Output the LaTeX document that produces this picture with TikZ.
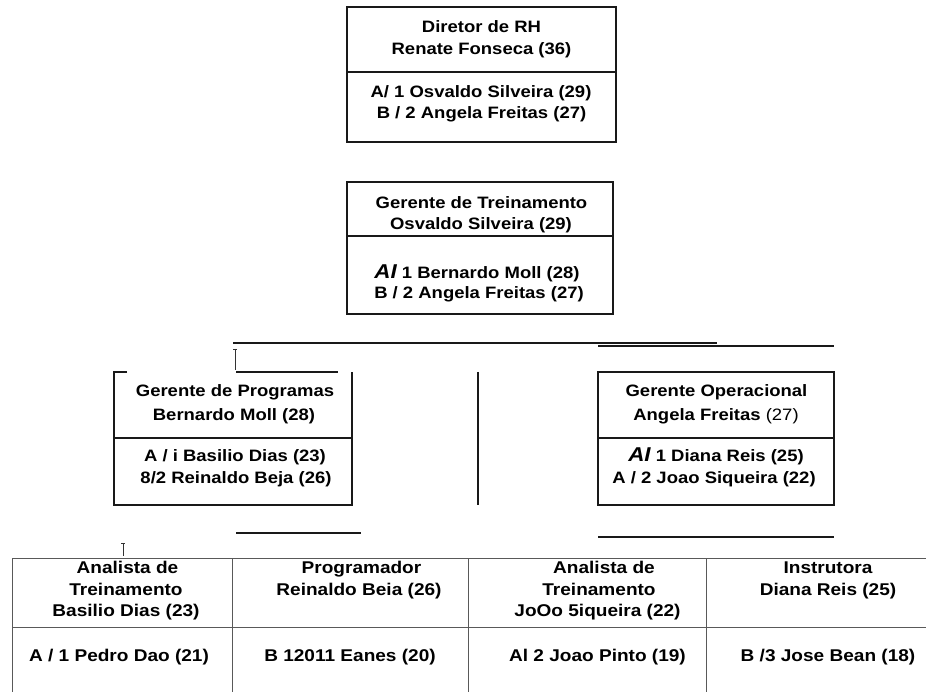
\documentclass[tikz,border=0pt]{standalone}
\usepackage{fontspec}
\newfontfamily\chartfont{Liberation Sans}[FakeStretch=1.12]
\begin{document}
\begin{tikzpicture}[x=1pt,y=-1pt,
  boxline/.style={line width=1.6pt,draw=black!90},
  gridline/.style={line width=0.9pt,draw=black!65},
  thinline/.style={line width=0.6pt,draw=black!80},
  lbl/.style={anchor=base,inner sep=0pt,font=\chartfont\fontsize{16.5}{20}\selectfont\bfseries},
  tbl/.style={lbl,font=\chartfont\fontsize{17}{20}\selectfont\bfseries}]
\newcommand\slantAI{{\fontsize{20}{20}\selectfont\itshape AI}}
\useasboundingbox (0,0) rectangle (926,692);

% Director box
\draw[boxline] (347,7) rectangle (616,142);
\draw[boxline] (347,72) -- (616,72);
\node[lbl] (dir1) at (481.5,32.3) {Diretor de RH};
\node[lbl] (dir2) at (481.5,55) {Renate Fonseca (36)};
\node[lbl] (dir3) at (481,97.3) {A/ 1 Osvaldo Silveira (29)};
\node[lbl] (dir4) at (481.5,118.7) {B / 2 Angela Freitas (27)};

% Training manager box
\draw[boxline] (347,182) rectangle (613,314);
\draw[boxline] (347,236) -- (613,236);
\node[lbl] (tre1) at (481.5,208.3) {Gerente de Treinamento};
\node[lbl] (tre2) at (481,230) {Osvaldo Silveira (29)};
\node[lbl] (tre3) at (477,278.3) {\slantAI\ 1 Bernardo Moll (28)};
\node[lbl] (tre4) at (479,298.3) {B / 2 Angela Freitas (27)};

% Branch lines
\draw[boxline] (233,343) -- (717,343);
\draw[boxline] (598,346) -- (834,346);
\draw[thinline] (235,349) -- (235,370);
\draw[thinline] (233,349) -- (237,349);
\draw[boxline] (236,372) -- (338,372);

% Programs manager box
\draw[boxline] (127,372) -- (114,372) -- (114,505) -- (352,505) -- (352,372);
\draw[boxline] (114,438) -- (352,438);
\node[lbl] (pro1) at (235,396.7) {Gerente de Programas};
\node[lbl] (pro2) at (234,420) {Bernardo Moll (28)};
\node[lbl] (pro3) at (235,461.7) {A / i Basilio Dias (23)};
\node[lbl] (pro4) at (236,483.3) {8/2 Reinaldo Beja (26)};

% Middle vertical
\draw[boxline] (478,372) -- (478,505);

% Operations manager box
\draw[boxline] (598,372) rectangle (834,505);
\draw[boxline] (598,438) -- (834,438);
\node[lbl] (ope1) at (716.5,396.7) {Gerente Operacional};
\node[lbl] (ope2) at (716,420) {Angela Freitas \mdseries(27)};
\node[lbl] (ope3) at (716,461.7) {\slantAI\ 1 Diana Reis (25)};
\node[lbl] (ope4) at (714,483.3) {A / 2 Joao Siqueira (22)};

% Lower fragments
\draw[boxline] (236,533) -- (361,533);
\draw[boxline] (598,537) -- (834,537);
\draw[thinline] (123,543) -- (123,556);
\draw[thinline] (121,543) -- (125,543);

% Staff table
\draw[gridline] (926,558) -- (12,558) -- (12,692);
\draw[gridline] (12,627) -- (926,627);
\draw[gridline] (232,558) -- (232,692);
\draw[gridline] (468,558) -- (468,692);
\draw[gridline] (706,558) -- (706,692);

\node[tbl] (c1a) at (127.5,573) {Analista de};
\node[tbl] (c1b) at (126,595) {Treinamento};
\node[tbl] (c1c) at (126,616) {Basilio Dias (23)};
\node[tbl] (c1d) at (119,661.7) {A / 1 Pedro Dao (21)};

\node[tbl] (c2a) at (361.5,573) {Programador};
\node[tbl] (c2b) at (359,595) {Reinaldo Beia (26)};
\node[tbl] (c2d) at (350,661.7) {B 12011 Eanes (20)};

\node[tbl] (c3a) at (604,573) {Analista de};
\node[tbl] (c3b) at (599,595) {Treinamento};
\node[tbl] (c3c) at (597.5,616) {JoOo 5iqueira (22)};
\node[tbl] (c3d) at (597.5,661.7) {Al 2 Joao Pinto (19)};

\node[tbl] (c4a) at (828,573) {Instrutora};
\node[tbl] (c4b) at (828,595) {Diana Reis (25)};
\node[tbl] (c4d) at (828,661.7) {B /3 Jose Bean (18)};
\end{tikzpicture}
\end{document}
